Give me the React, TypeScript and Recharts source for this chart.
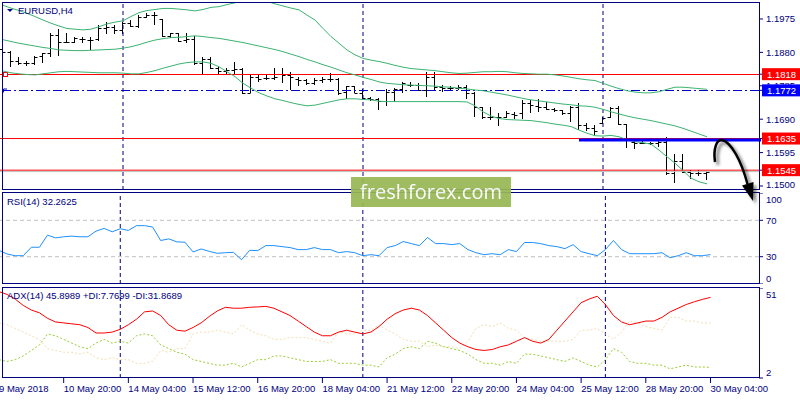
import React from "react";
import { ComposedChart, Bar, Line, XAxis, YAxis, ReferenceLine } from "recharts";

const NAVY = "#000080";
const FONT = "'Liberation Sans', Arial, sans-serif";
const FS = 9.5;

// ---------- time axis ----------
const xTickIdx = [0, 8, 16, 24, 32, 40, 48, 56, 64, 72, 80, 88];
const xTickLabels = [
  "9 May 2018", "10 May 20:00", "14 May 04:00", "15 May 12:00", "16 May 20:00", "18 May 04:00",
  "21 May 12:00", "22 May 20:00", "24 May 04:00", "25 May 12:00", "28 May 20:00", "30 May 04:00",
];
const weekStarts = [15, 45, 75];
const SLOTS = 95;

// ---------- EURUSD H4 bars ----------
const open = [
  1.1890, 1.1882, 1.1856, 1.1849, 1.1849, 1.1870, 1.1877, 1.1929, 1.1910, 1.1910,
  1.1917, 1.1915, 1.1917, 1.1948, 1.1953, 1.1944, 1.1963, 1.1955, 1.1982, 1.1986,
  1.1974, 1.1927, 1.1934, 1.1915, 1.1917, 1.1849, 1.1860, 1.1835, 1.1828, 1.1830,
  1.1832, 1.1765, 1.1811, 1.1808, 1.1808, 1.1819, 1.1816, 1.1803, 1.1802, 1.1794,
  1.1802, 1.1803, 1.1803, 1.1768, 1.1784, 1.1765, 1.1749, 1.1746, 1.1743, 1.1768,
  1.1775, 1.1787, 1.1787, 1.1773, 1.1809, 1.1781, 1.1778, 1.1778, 1.1781, 1.1764,
  1.1726, 1.1697, 1.1695, 1.1695, 1.1705, 1.1707, 1.1735, 1.1728, 1.1726, 1.1718,
  1.1716, 1.1709, 1.1724, 1.1673, 1.1664, 1.1678, 1.1695, 1.1721, 1.1676, 1.1626,
  1.1623, 1.1621, 1.1623, 1.1626, 1.1538, 1.1572, 1.1541, 1.1538, 1.1536,
];
const high = [
  1.1893, 1.1884, 1.1868, 1.1856, 1.1870, 1.1879, 1.1934, 1.1946, 1.1934, 1.1923,
  1.1923, 1.1923, 1.1958, 1.1965, 1.1958, 1.1967, 1.1972, 1.1986, 1.1993, 1.1996,
  1.1974, 1.1936, 1.1936, 1.1934, 1.1927, 1.1866, 1.1866, 1.1841, 1.1835, 1.1854,
  1.1837, 1.1816, 1.1819, 1.1816, 1.1835, 1.1835, 1.1825, 1.1809, 1.1803, 1.1806,
  1.1809, 1.1820, 1.1806, 1.1784, 1.1784, 1.1775, 1.1754, 1.1749, 1.1775, 1.1778,
  1.1797, 1.1797, 1.1792, 1.1825, 1.1825, 1.1787, 1.1784, 1.1787, 1.1787, 1.1768,
  1.1726, 1.1724, 1.1707, 1.1714, 1.1711, 1.1745, 1.1745, 1.1746, 1.1740, 1.1721,
  1.1716, 1.1728, 1.1735, 1.1678, 1.1673, 1.1697, 1.1726, 1.1728, 1.1676, 1.1631,
  1.1629, 1.1626, 1.1633, 1.1640, 1.1591, 1.1591, 1.1546, 1.1546, 1.1544,
];
const low = [
  1.1847, 1.1838, 1.1844, 1.1841, 1.1844, 1.1849, 1.1868, 1.1871, 1.1906, 1.1906,
  1.1906, 1.1887, 1.1913, 1.1931, 1.1931, 1.1931, 1.1953, 1.1948, 1.1977, 1.1958,
  1.1925, 1.1920, 1.1910, 1.1908, 1.1844, 1.1819, 1.1832, 1.1816, 1.1819, 1.1819,
  1.1762, 1.1764, 1.1797, 1.1802, 1.1802, 1.1792, 1.1773, 1.1784, 1.1787, 1.1787,
  1.1794, 1.1797, 1.1759, 1.1746, 1.1764, 1.1745, 1.1743, 1.1716, 1.1728, 1.1740,
  1.1764, 1.1781, 1.1771, 1.1754, 1.1773, 1.1768, 1.1771, 1.1773, 1.1746, 1.1695,
  1.1690, 1.1688, 1.1671, 1.1692, 1.1690, 1.1690, 1.1707, 1.1711, 1.1716, 1.1711,
  1.1702, 1.1683, 1.1659, 1.1655, 1.1645, 1.1676, 1.1694, 1.1673, 1.1607, 1.1604,
  1.1619, 1.1617, 1.1612, 1.1531, 1.1508, 1.1536, 1.1519, 1.1527, 1.1517,
];
const close = [
  1.1882, 1.1856, 1.1849, 1.1849, 1.1868, 1.1877, 1.1929, 1.1910, 1.1910, 1.1920,
  1.1917, 1.1915, 1.1948, 1.1953, 1.1944, 1.1963, 1.1955, 1.1982, 1.1986, 1.1986,
  1.1927, 1.1934, 1.1913, 1.1917, 1.1849, 1.1860, 1.1835, 1.1828, 1.1830, 1.1832,
  1.1764, 1.1811, 1.1803, 1.1808, 1.1811, 1.1816, 1.1811, 1.1802, 1.1794, 1.1802,
  1.1803, 1.1803, 1.1764, 1.1784, 1.1765, 1.1749, 1.1746, 1.1743, 1.1768, 1.1775,
  1.1792, 1.1787, 1.1773, 1.1809, 1.1781, 1.1778, 1.1778, 1.1781, 1.1764, 1.1726,
  1.1697, 1.1695, 1.1695, 1.1707, 1.1702, 1.1735, 1.1730, 1.1726, 1.1718, 1.1716,
  1.1709, 1.1724, 1.1673, 1.1664, 1.1657, 1.1692, 1.1721, 1.1676, 1.1631, 1.1621,
  1.1623, 1.1623, 1.1626, 1.1538, 1.1572, 1.1541, 1.1538, 1.1536, 1.1541,
];

// ---------- Bollinger bands (20, 2) ----------
const bbUpper = [
  1.2014, 1.2006, 1.1999, 1.1991, 1.1982, 1.1972, 1.1963, 1.1955, 1.1948, 1.1946,
  1.1944, 1.1946, 1.1953, 1.1961, 1.1966, 1.1970, 1.1982, 1.1993, 1.1999, 1.2002,
  1.2005, 1.2005, 1.2003, 1.2001, 1.1998, 1.2002, 1.2008, 1.2010, 1.2016, 1.2021,
  1.2026, 1.2031, 1.2033, 1.2025, 1.2018, 1.2012, 1.2006, 1.2001, 1.1986, 1.1972,
  1.1948, 1.1925, 1.1906, 1.1887, 1.1873, 1.1863, 1.1858, 1.1854, 1.1849, 1.1843,
  1.1838, 1.1834, 1.1832, 1.1830, 1.1828, 1.1825, 1.1822, 1.1820, 1.1821, 1.1823,
  1.1825, 1.1825, 1.1826, 1.1825, 1.1822, 1.1820, 1.1819, 1.1818, 1.1818, 1.1816,
  1.1813, 1.1809, 1.1805, 1.1802, 1.1800, 1.1792, 1.1784, 1.1777, 1.1771, 1.1767,
  1.1765, 1.1765, 1.1768, 1.1775, 1.1781, 1.1781, 1.1779, 1.1777, 1.1775,
];
const bbMid = [
  1.1916, 1.1911, 1.1906, 1.1902, 1.1898, 1.1894, 1.1891, 1.1887, 1.1886, 1.1885,
  1.1885, 1.1886, 1.1887, 1.1888, 1.1889, 1.1892, 1.1896, 1.1902, 1.1909, 1.1915,
  1.1919, 1.1922, 1.1923, 1.1925, 1.1927, 1.1925, 1.1922, 1.1920, 1.1916, 1.1912,
  1.1908, 1.1903, 1.1898, 1.1893, 1.1888, 1.1882, 1.1875, 1.1868, 1.1860, 1.1853,
  1.1845, 1.1838, 1.1830, 1.1822, 1.1816, 1.1809, 1.1803, 1.1796, 1.1792, 1.1790,
  1.1788, 1.1787, 1.1786, 1.1785, 1.1784, 1.1782, 1.1781, 1.1778, 1.1776, 1.1773,
  1.1771, 1.1767, 1.1763, 1.1759, 1.1754, 1.1749, 1.1745, 1.1742, 1.1739, 1.1736,
  1.1733, 1.1731, 1.1728, 1.1727, 1.1724, 1.1718, 1.1711, 1.1705, 1.1699, 1.1694,
  1.1690, 1.1686, 1.1681, 1.1676, 1.1671, 1.1664, 1.1656, 1.1648, 1.1640,
];
const bbLower = [
  1.1827, 1.1822, 1.1819, 1.1817, 1.1816, 1.1819, 1.1822, 1.1825, 1.1826, 1.1825,
  1.1824, 1.1823, 1.1822, 1.1822, 1.1822, 1.1821, 1.1819, 1.1819, 1.1823, 1.1828,
  1.1835, 1.1841, 1.1847, 1.1851, 1.1853, 1.1853, 1.1849, 1.1839, 1.1825, 1.1811,
  1.1792, 1.1778, 1.1765, 1.1756, 1.1748, 1.1743, 1.1737, 1.1732, 1.1728, 1.1730,
  1.1735, 1.1740, 1.1745, 1.1748, 1.1748, 1.1746, 1.1745, 1.1741, 1.1740, 1.1740,
  1.1740, 1.1740, 1.1740, 1.1740, 1.1740, 1.1740, 1.1740, 1.1740, 1.1739, 1.1728,
  1.1711, 1.1699, 1.1692, 1.1689, 1.1688, 1.1687, 1.1686, 1.1683, 1.1680, 1.1676,
  1.1673, 1.1669, 1.1659, 1.1650, 1.1643, 1.1642, 1.1644, 1.1640, 1.1631, 1.1626,
  1.1623, 1.1619, 1.1602, 1.1583, 1.1565, 1.1544, 1.1522, 1.1512, 1.1506,
];

// ---------- RSI(14) ----------
const rsi = [
  37.0, 33.0, 31.1, 31.1, 40.4, 40.4, 53.7, 50.7, 51.9, 52.6,
  51.9, 51.9, 58.1, 61.1, 57.4, 60.7, 58.9, 64.1, 64.1, 62.6,
  47.8, 49.6, 46.3, 45.9, 35.2, 38.5, 35.9, 33.7, 34.4, 34.8,
  26.7, 37.0, 36.7, 42.2, 42.2, 41.1, 40.0, 37.8, 37.8, 40.0,
  37.8, 37.8, 34.4, 35.6, 34.4, 31.1, 32.2, 31.1, 40.0, 42.2,
  46.7, 44.4, 42.2, 51.1, 44.4, 44.4, 43.3, 44.4, 37.8, 34.4,
  32.2, 33.3, 32.2, 37.8, 35.6, 45.6, 45.6, 44.4, 42.2, 41.1,
  38.9, 43.3, 35.6, 33.3, 31.1, 37.8, 47.8, 37.8, 33.3, 33.3,
  33.3, 33.3, 34.4, 28.9, 31.1, 34.4, 31.1, 31.1, 32.3,
];

// ---------- ADX(14) ----------
const adx = [
  49.0, 47.5, 45.0, 41.5, 39.0, 37.5, 34.5, 32.5, 32.0, 31.5,
  31.0, 29.5, 26.5, 26.5, 27.0, 28.5, 31.0, 34.0, 38.0, 38.5,
  36.0, 31.0, 28.0, 27.5, 29.5, 32.0, 35.5, 38.5, 40.5, 40.0,
  40.0, 40.5, 40.7, 41.0, 40.0, 38.0, 36.0, 33.0, 30.0, 27.0,
  25.0, 25.0, 27.0, 28.0, 27.0, 26.0, 27.0, 30.0, 34.0, 37.0,
  39.0, 40.0, 39.0, 36.0, 32.0, 28.0, 24.0, 21.0, 19.0, 17.5,
  17.0, 17.5, 19.0, 20.0, 22.0, 24.0, 22.0, 21.0, 23.0, 28.0,
  33.0, 38.0, 43.0, 45.0, 46.5, 42.0, 36.0, 32.5, 31.0, 32.0,
  33.0, 33.0, 35.0, 38.0, 40.0, 42.0, 43.5, 44.8, 45.9,
];
const plusDi = [
  12, 11, 12, 14, 17, 20, 26, 25, 23, 21,
  19, 18, 21, 23, 21, 22, 21, 25, 26, 25,
  20, 18, 16, 15, 12, 11, 10, 9, 9, 10,
  8, 10, 12, 12, 14, 14, 13, 12, 11, 11,
  11, 12, 10, 10, 10, 9, 9, 8, 13, 15,
  18, 19, 18, 22, 21, 19, 18, 17, 15, 12,
  10, 10, 9, 11, 10, 15, 15, 14, 13, 12,
  11, 13, 11, 9, 8, 12, 18, 16, 11, 10,
  10, 9, 9, 7, 8, 9, 8, 8, 7.77,
];
const minusDi = [
  32, 31, 29, 27, 25, 23, 18, 17, 16, 16,
  15, 16, 13, 12, 13, 12, 12, 10, 10, 11,
  17, 16, 18, 18, 26, 27, 27, 28, 27, 26,
  31, 28, 26, 25, 23, 23, 24, 24, 24, 23,
  22, 21, 27, 26, 26, 28, 28, 31, 28, 26,
  23, 22, 22, 19, 20, 19, 19, 18, 22, 29,
  31, 30, 32, 29, 28, 24, 23, 22, 22, 22,
  22, 23, 28, 28, 29, 26, 23, 27, 33, 32,
  30, 29, 28, 35, 35, 33, 33, 32, 31.87,
];

// ---------- levels ----------
const priceTicks = [1.15, 1.1595, 1.169, 1.1785, 1.188, 1.1975];
const priceTags = [
  { value: 1.1818, color: "#ff0000" },
  { value: 1.1772, color: "#0000ff" },
  { value: 1.1635, color: "#ff0000" },
  { value: 1.1545, color: "#ff0000" },
];
const rsiLevels = [30, 70];
const rsiTicks = [100, 70, 30, 0];
const adxTicks = [51, 2];
const trendStart = 72;

const rows = Array.from({ length: SLOTS }, (_, i) => ({
  i,
  hl: i < open.length ? [low[i], high[i]] : undefined,
  o: open[i],
  h: high[i],
  l: low[i],
  c: close[i],
  bbU: bbUpper[i],
  bbM: bbMid[i],
  bbL: bbLower[i],
  rsi: rsi[i],
  adx: adx[i],
  pdi: plusDi[i],
  mdi: minusDi[i],
}));

const OhlcBar = (props: any) => {
  const { x, y, width, height, payload } = props;
  if (payload == null || payload.h == null) return null;
  const cx = Math.floor(x + width / 2) + 0.5;
  const span = payload.h - payload.l || 1;
  const py = (v: number) => Math.round(y + ((payload.h - v) / span) * height) + 0.5;
  return (
    <g stroke="#000" strokeWidth={1}>
      <line x1={cx} x2={cx} y1={Math.round(y)} y2={Math.round(y + Math.max(height, 1))} />
      <line x1={cx - 3} x2={cx} y1={py(payload.o)} y2={py(payload.o)} />
      <line x1={cx} x2={cx + 3} y1={py(payload.c)} y2={py(payload.c)} />
    </g>
  );
};

// right-hand scale labels, kept inside the pane like the terminal does
const ScaleTick = (props: any) => {
  const { x, y, payload, top, bottom, fmt } = props;
  const tag = priceTags.find((t) => Math.abs(t.value - payload.value) < 1e-9);
  const ty = Math.min(Math.max(y, top + 6), bottom - 6);
  if (tag && fmt) {
    return (
      <g>
        <rect x={x - 4} y={ty - 6} width={41} height={12} fill={tag.color} />
        <text x={x + 1} y={ty + 3.5} fill="#fff" fontSize={FS} fontFamily={FONT}>
          {payload.value.toFixed(4)}
        </text>
      </g>
    );
  }
  return (
    <text x={x} y={ty + 3.5} fill={NAVY} fontSize={FS} fontFamily={FONT}>
      {fmt ? fmt(payload.value) : payload.value}
    </text>
  );
};

const TimeTick = (props: any) => {
  const { x, y, payload } = props;
  const k = xTickIdx.indexOf(payload.value);
  return (
    <text x={x} y={y + 8} fill={NAVY} fontSize={FS} fontFamily={FONT} textAnchor="start">
      {xTickLabels[k]}
    </text>
  );
};

const separators = weekStarts.map((w) => (
  <ReferenceLine key={w} x={w} stroke={NAVY} strokeDasharray="4 3" ifOverflow="visible" />
));

const LevelWithMarks = (props: any) => {
  const { x1, x2, y1, stroke, kind } = props;
  const y = Math.round(y1) + 0.5;
  if (kind === "square") {
    return (
      <g>
        <line x1={x1} x2={x2} y1={y} y2={y} stroke={stroke} strokeWidth={1} />
        <rect x={4.5} y={y - 2} width={4} height={4} fill="#fff" stroke={stroke} />
        <rect x={x2 - 4.5} y={y - 2} width={4} height={4} fill="#fff" stroke={stroke} />
      </g>
    );
  }
  return (
    <g>
      <line x1={x1} x2={x2} y1={y} y2={y} stroke={stroke} strokeWidth={1} strokeDasharray="9 3 2 3" />
      <path d={`M4.5 ${y + 2} V${y - 1.5} H8`} fill="none" stroke={stroke} />
      <path d={`M${x2 - 4} ${y - 1.5} H${x2 - 0.5} V${y + 2}`} fill="none" stroke={stroke} />
    </g>
  );
};

const TrendShape = (props: any) => {
  const { x1, x2, y1 } = props;
  const y = Math.round(y1) + 1;
  return (
    <g>
      <line x1={x1} x2={x2 + 6} y1={y + 3} y2={y + 3} stroke="#000" strokeOpacity={0.25} strokeWidth={3} filter="url(#soft)" />
      <line x1={x1} x2={x2 + 6} y1={y} y2={y} stroke="#0000ff" strokeWidth={3} />
    </g>
  );
};

const chartBox = { position: "absolute" as const, left: -1 };

export default function App() {
  return (
    <div
      style={{
        position: "fixed",
        left: 0,
        top: 0,
        width: 800,
        height: 400,
        background: "#fff",
        overflow: "hidden",
        fontFamily: FONT,
      }}
    >
      <svg width={0} height={0} style={{ position: "absolute" }}>
        <defs>
          <filter id="soft" x="-10%" y="-200%" width="120%" height="500%">
            <feGaussianBlur stdDeviation="1.5" />
          </filter>
        </defs>
      </svg>

      {/* price pane */}
      <div style={{ ...chartBox, top: 2 }}>
        <ComposedChart width={801} height={188} data={rows} margin={{ top: 0, right: 0, bottom: 0, left: 0 }}>
          <XAxis dataKey="i" type="category" hide />
          <YAxis
            orientation="right"
            type="number"
            width={41}
            domain={[1.14886, 1.20233]}
            allowDataOverflow
            ticks={[...priceTicks, ...priceTags.map((t) => t.value)]}
            interval={0}
            tickSize={4}
            tickMargin={3}
            axisLine={false}
            tickLine={{ stroke: NAVY }}
            tick={(p: any) => <ScaleTick {...p} top={2} bottom={188} fmt={(v: number) => v.toFixed(4)} />}
          />
          {separators}
          <ReferenceLine y={close[close.length - 1]} stroke="#c0c0c0" />
          <ReferenceLine y={1.1545} stroke="#ff0000" />
          <ReferenceLine y={1.1635} stroke="#ff0000" />
          <ReferenceLine y={1.1818} stroke="#ff0000" shape={(p: any) => <LevelWithMarks {...p} kind="square" stroke="#ff0000" />} />
          <ReferenceLine y={1.1772} stroke="#0000c8" shape={(p: any) => <LevelWithMarks {...p} kind="dash" stroke="#0000c8" />} />
          <Line dataKey="bbU" stroke="#3cb371" strokeWidth={1} dot={false} isAnimationActive={false} />
          <Line dataKey="bbM" stroke="#3cb371" strokeWidth={1} dot={false} isAnimationActive={false} />
          <Line dataKey="bbL" stroke="#3cb371" strokeWidth={1} dot={false} isAnimationActive={false} />
          <Bar dataKey="hl" shape={<OhlcBar />} isAnimationActive={false} />
          <ReferenceLine
            segment={[{ x: trendStart, y: 1.1635 }, { x: SLOTS - 1, y: 1.1635 }]}
            shape={(p: any) => <TrendShape {...p} />}
          />
        </ComposedChart>
      </div>

      {/* RSI pane */}
      <div style={{ ...chartBox, top: 193 }}>
        <ComposedChart width={801} height={91} data={rows} margin={{ top: 0, right: 0, bottom: 0, left: 0 }}>
          <XAxis dataKey="i" type="category" hide />
          <YAxis
            orientation="right"
            type="number"
            width={41}
            domain={[0, 100]}
            allowDataOverflow
            ticks={rsiTicks}
            interval={0}
            tickSize={4}
            tickMargin={3}
            axisLine={false}
            tickLine={{ stroke: NAVY }}
            tick={(p: any) => <ScaleTick {...p} top={0} bottom={91} />}
          />
          {separators}
          {rsiLevels.map((v) => (
            <ReferenceLine key={v} y={v} stroke="#c0c0c0" strokeDasharray="4 3" />
          ))}
          <Line dataKey="rsi" stroke="#1e90ff" strokeWidth={1} dot={false} isAnimationActive={false} />
        </ComposedChart>
      </div>

      {/* ADX pane */}
      <div style={{ ...chartBox, top: 288 }}>
        <ComposedChart width={801} height={112} data={rows} margin={{ top: 0, right: 0, bottom: 0, left: 0 }}>
          <XAxis
            dataKey="i"
            type="category"
            height={22}
            ticks={xTickIdx}
            interval={0}
            tickSize={5}
            tickMargin={1}
            axisLine={false}
            tickLine={{ stroke: NAVY }}
            tick={<TimeTick />}
          />
          <YAxis
            orientation="right"
            type="number"
            width={41}
            domain={[2, 51]}
            allowDataOverflow
            ticks={adxTicks}
            interval={0}
            tickSize={4}
            tickMargin={3}
            axisLine={false}
            tickLine={{ stroke: NAVY }}
            tick={(p: any) => <ScaleTick {...p} top={0} bottom={90} />}
          />
          {separators}
          <Line dataKey="mdi" stroke="#f5deb3" strokeWidth={1} strokeDasharray="2 2" dot={false} isAnimationActive={false} />
          <Line dataKey="pdi" stroke="#9acd32" strokeWidth={1} strokeDasharray="2 2" dot={false} isAnimationActive={false} />
          <Line dataKey="adx" stroke="#ff0000" strokeWidth={1} dot={false} isAnimationActive={false} />
        </ComposedChart>
      </div>

      {/* pane frames and captions */}
      <svg width={800} height={400} style={{ position: "absolute", left: 0, top: 0, pointerEvents: "none" }}>
        <g fill="none" stroke={NAVY} strokeWidth={1}>
          <rect x={2.5} y={2.5} width={757} height={187} />
          <rect x={2.5} y={192.5} width={757} height={91} />
          <rect x={2.5} y={287.5} width={757} height={90} />
        </g>
        <path d="M7 9 H13 L10 12 Z" fill={NAVY} />
        <text x={18} y={14} fill={NAVY} fontSize={FS} fontFamily={FONT}>EURUSD,H4</text>
        <text x={7} y={205} fill={NAVY} fontSize={FS} fontFamily={FONT}>RSI(14) 32.2625</text>
        <text x={7} y={299} fill={NAVY} fontSize={FS} fontFamily={FONT}>ADX(14) 45.8989 +DI:7.7699 -DI:31.8689</text>
      </svg>

      {/* watermark */}
      <div
        style={{
          position: "absolute",
          left: 351,
          top: 177,
          width: 160,
          height: 30,
          background: "#98b954",
          opacity: 0.93,
          color: "#fff",
          fontFamily: "'Open Sans', sans-serif",
          fontSize: 20,
          lineHeight: "29px",
          textAlign: "center",
        }}
      >
        freshforex.com
      </div>

      {/* forecast arrow */}
      <svg width={800} height={400} style={{ position: "absolute", left: 0, top: 0, pointerEvents: "none" }}>
        <defs>
          <filter id="ashadow" x="-50%" y="-50%" width="200%" height="200%">
            <feGaussianBlur stdDeviation="1.6" />
          </filter>
        </defs>
        <g transform="translate(3,3)" filter="url(#ashadow)" opacity={0.45}>
          <path d="M715 162 C713 148 717 139 722 140 C731 142 741 160 747.5 184" fill="none" stroke="#000" strokeWidth={3} />
          <path d="M742 185.5 L753.5 182 L753 201 Z" fill="#000" />
        </g>
        <path d="M715 162 C713 148 717 139 722 140 C731 142 741 160 747.5 184" fill="none" stroke="#000" strokeWidth={2.5} />
        <path d="M742 185.5 L753.5 182 L753 201 Z" fill="#000" />
      </svg>
    </div>
  );
}
